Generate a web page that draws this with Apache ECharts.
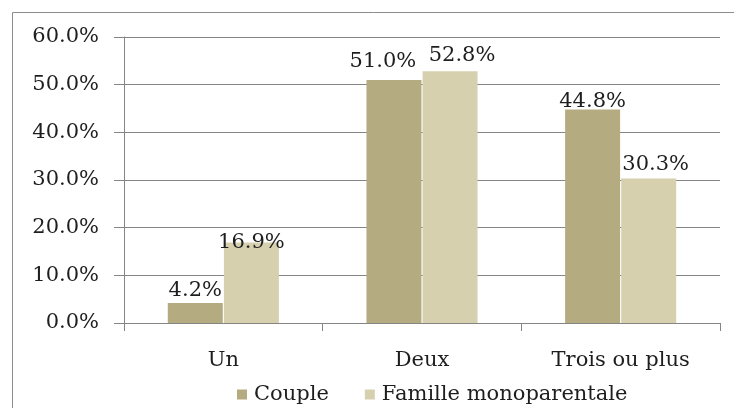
<!DOCTYPE html>
<html>
<head>
<meta charset="utf-8">
<script src="https://cdn.jsdelivr.net/npm/echarts@6/dist/echarts.min.js"></script>
<style>
  html, body { margin: 0; padding: 0; background: #fff; }
  #chart { width: 734px; height: 408px; }
</style>
</head>
<body>
<div id="chart"></div>
<script>
const categories = ['Un', 'Deux', 'Trois ou plus']
const couple = [4.2, 51.0, 44.8]
const famille = [16.9, 52.8, 30.3]

// décalage des étiquettes, placées comme dans l'original Excel
const coupleOffset = [[0, 0], [-11, -6], [0, 5]]
const familleOffset = [[0, 13], [12, -3], [7, -2]]

const font = 'DejaVu Serif'
const fs = 21
const txt = '#1e1e1e'

function toItems(values, offsets) {
  return values.map((v, i) => ({
    value: v,
    label: { offset: offsets[i] }
  }))
}

const chart = echarts.init(document.getElementById('chart'))
chart.setOption({
  animation: false,
  textStyle: { fontFamily: font },
  graphic: [{
    type: 'rect',
    shape: { x: 12.5, y: 12.5, width: 800, height: 500 },
    style: { fill: 'none', stroke: '#8c8c8c', lineWidth: 1 },
    silent: true
  }],
  grid: { left: 124, right: 14, top: 37, bottom: 85 },
  legend: {
    top: 379,
    left: 232,
    itemWidth: 10,
    itemHeight: 10,
    itemGap: 36,
    icon: 'rect',
    textStyle: { fontFamily: font, fontSize: fs, color: txt, padding: [0, 0, 0, 2] },
    data: ['Couple', 'Famille monoparentale']
  },
  xAxis: {
    type: 'category',
    data: categories,
    axisLine: { lineStyle: { color: '#858585' } },
    axisTick: { show: true, length: 8, lineStyle: { color: '#858585' } },
    axisLabel: { fontFamily: font, fontSize: fs, color: txt, margin: 27 }
  },
  yAxis: {
    type: 'value',
    min: 0,
    max: 60,
    interval: 10,
    axisLine: { show: true, lineStyle: { color: '#858585' } },
    axisTick: { show: true, length: 10, lineStyle: { color: '#858585' } },
    splitLine: { lineStyle: { color: '#858585' } },
    axisLabel: {
      fontFamily: font, fontSize: fs, color: txt, margin: 25,
      formatter: v => v.toFixed(1) + '%'
    }
  },
  series: [
    {
      name: 'Couple',
      type: 'bar',
      barWidth: 55,
      barGap: '2%',
      itemStyle: { color: '#b4ab81' },
      label: {
        show: true, position: 'top', distance: 2,
        fontFamily: font, fontSize: fs, color: txt,
        formatter: p => p.value.toFixed(1) + '%'
      },
      data: toItems(couple, coupleOffset)
    },
    {
      name: 'Famille monoparentale',
      type: 'bar',
      barWidth: 55,
      itemStyle: { color: '#d6d0ae' },
      label: {
        show: true, position: 'top', distance: 2,
        fontFamily: font, fontSize: fs, color: txt,
        formatter: p => p.value.toFixed(1) + '%'
      },
      data: toItems(famille, familleOffset)
    }
  ]
})
</script>
</body>
</html>
